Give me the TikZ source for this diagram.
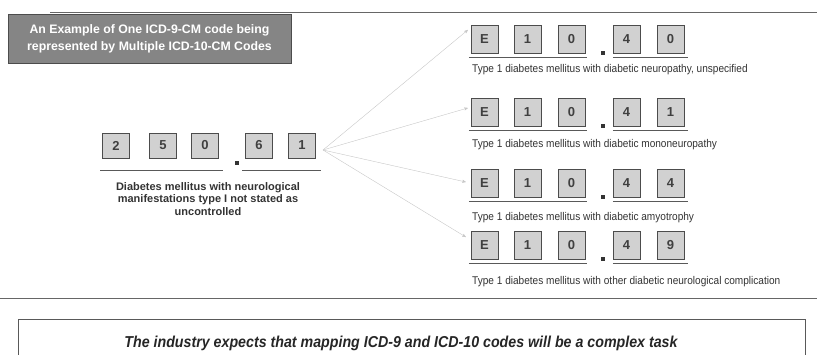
\documentclass[tikz,border=0pt]{standalone}
\usepackage{fontspec}
\setmainfont{Liberation Sans}
\newfontfamily\narrowfont[FakeStretch=0.9]{Liberation Sans}
\usetikzlibrary{arrows}

\begin{document}
\begin{tikzpicture}[x=1pt,y=-1pt,>=stealth',
 		code box/.style={rectangle,draw=black!70,fill=black!18,minimum width=27pt,minimum height=28pt,inner sep=0pt,text=black!75,font=\fontsize{13}{13}\selectfont\bfseries},
 		code dot/.style={rectangle,fill=black!80,minimum size=4pt,inner sep=0pt},
 		desc/.style={anchor=west,inner sep=0pt,text=black!80,font=\narrowfont\fontsize{11.2}{12}\selectfont},
 		under/.style={draw=black!65,thick},
 		map arrow/.style={->,draw=black!22,thin}]
 		\useasboundingbox (0,0) rectangle (817,355);
 		\draw[black!60,thick] (50,12) -- (817,12);
 		\node[fill=black!48,draw=black!70,minimum width=283pt,minimum height=49pt,text=white,align=center,font=\bfseries\fontsize{12.3}{17}\selectfont] (title) at (149.5,38.5) {An Example of One ICD-9-CM code being\\represented by Multiple ICD-10-CM Codes};
 
 		% ICD-9 code
 		\node[code box,minimum height=25pt] (l1) at (116,145.5) {2};
 		\node[code box,minimum height=25pt] (l2) at (163,145.5) {5};
 		\node[code box,minimum height=25pt] (l3) at (205,145.5) {0};
 		\node[code dot] (ld) at (237,163) {};
 		\node[code box,minimum height=25pt] (l4) at (259,145.5) {6};
 		\node[code box,minimum height=25pt] (l5) at (302,145.5) {1};
 		\draw[under] ([xshift=-2pt,yshift=-12pt]l1.south west) -- ([xshift=4pt,yshift=-12pt]l3.south east);
 		\draw[under] ([xshift=-3pt,yshift=-12pt]l4.south west) -- ([xshift=5pt,yshift=-12pt]l5.south east);
 		\node[align=center,inner sep=0pt,text=black!80,font=\bfseries\fontsize{11}{12.5}\selectfont] (lt) at (208,199) {Diabetes mellitus with neurological\\manifestations type I not stated as\\uncontrolled};
 
 		% ICD-10 codes
 		\node[code box] (r1c1) at (484.5,39) {E};
 		\node[code box] (r1c2) at (527.5,39) {1};
 		\node[code box] (r1c3) at (571.5,39) {0};
 		\node[code dot] (r1d) at (603,53) {};
 		\node[code box] (r1c4) at (626.5,39) {4};
 		\node[code box] (r1c5) at (670.5,39) {0};
 		\node[desc] (r1t) at (472,70) {Type 1 diabetes mellitus with diabetic neuropathy, unspecified};
 
 		\node[code box] (r2c1) at (484.5,112) {E};
 		\node[code box] (r2c2) at (527.5,112) {1};
 		\node[code box] (r2c3) at (571.5,112) {0};
 		\node[code dot] (r2d) at (603,126) {};
 		\node[code box] (r2c4) at (626.5,112) {4};
 		\node[code box] (r2c5) at (670.5,112) {1};
 		\node[desc] (r2t) at (472,145) {Type 1 diabetes mellitus with diabetic mononeuropathy};
 
 		\node[code box] (r3c1) at (484.5,183) {E};
 		\node[code box] (r3c2) at (527.5,183) {1};
 		\node[code box] (r3c3) at (571.5,183) {0};
 		\node[code dot] (r3d) at (603,197) {};
 		\node[code box] (r3c4) at (626.5,183) {4};
 		\node[code box] (r3c5) at (670.5,183) {4};
 		\node[desc] (r3t) at (472,218) {Type 1 diabetes mellitus with diabetic amyotrophy};
 
 		\node[code box] (r4c1) at (484.5,245) {E};
 		\node[code box] (r4c2) at (527.5,245) {1};
 		\node[code box] (r4c3) at (571.5,245) {0};
 		\node[code dot] (r4d) at (603,259) {};
 		\node[code box] (r4c4) at (626.5,245) {4};
 		\node[code box] (r4c5) at (670.5,245) {9};
 		\node[desc] (r4t) at (472,282) {Type 1 diabetes mellitus with other diabetic neurological complication};
 
 		\draw[under] ([xshift=-2pt,yshift=-4pt]r1c1.south west) -- ([xshift=2pt,yshift=-4pt]r1c3.south east);
 		\draw[under] ([xshift=0pt,yshift=-4pt]r1c4.south west) -- ([xshift=4pt,yshift=-4pt]r1c5.south east);
 		\draw[under] ([xshift=-2pt,yshift=-4pt]r2c1.south west) -- ([xshift=2pt,yshift=-4pt]r2c3.south east);
 		\draw[under] ([xshift=0pt,yshift=-4pt]r2c4.south west) -- ([xshift=4pt,yshift=-4pt]r2c5.south east);
 		\draw[under] ([xshift=-2pt,yshift=-4pt]r3c1.south west) -- ([xshift=2pt,yshift=-4pt]r3c3.south east);
 		\draw[under] ([xshift=0pt,yshift=-4pt]r3c4.south west) -- ([xshift=4pt,yshift=-4pt]r3c5.south east);
 		\draw[under] ([xshift=-2pt,yshift=-4pt]r4c1.south west) -- ([xshift=2pt,yshift=-4pt]r4c3.south east);
 		\draw[under] ([xshift=0pt,yshift=-4pt]r4c4.south west) -- ([xshift=4pt,yshift=-4pt]r4c5.south east);
 
 		% mapping arrows
 		\coordinate (src) at (323,150);
 		\draw[map arrow] (src) -- ([shift={(-3pt,9pt)}]r1c1.west);
 		\draw[map arrow] (src) -- ([shift={(-3pt,4pt)}]r2c1.west);
 		\draw[map arrow] (src) -- ([shift={(-5pt,1pt)}]r3c1.west);
 		\draw[map arrow] (src) -- ([shift={(-5pt,8pt)}]r4c1.west);
 
 		\draw[black!60,thick] (0,298) -- (817,298);
 		\draw[black!65,thick] (18,360) |- (805,319) -- (805,360);
 		\node[text=black!85,font=\narrowfont\bfseries\itshape\fontsize{15.8}{18}\selectfont] (note) at (401,343) {The industry expects that mapping ICD-9 and ICD-10 codes will be a complex task};
 
 		\end{tikzpicture}
\end{document}
